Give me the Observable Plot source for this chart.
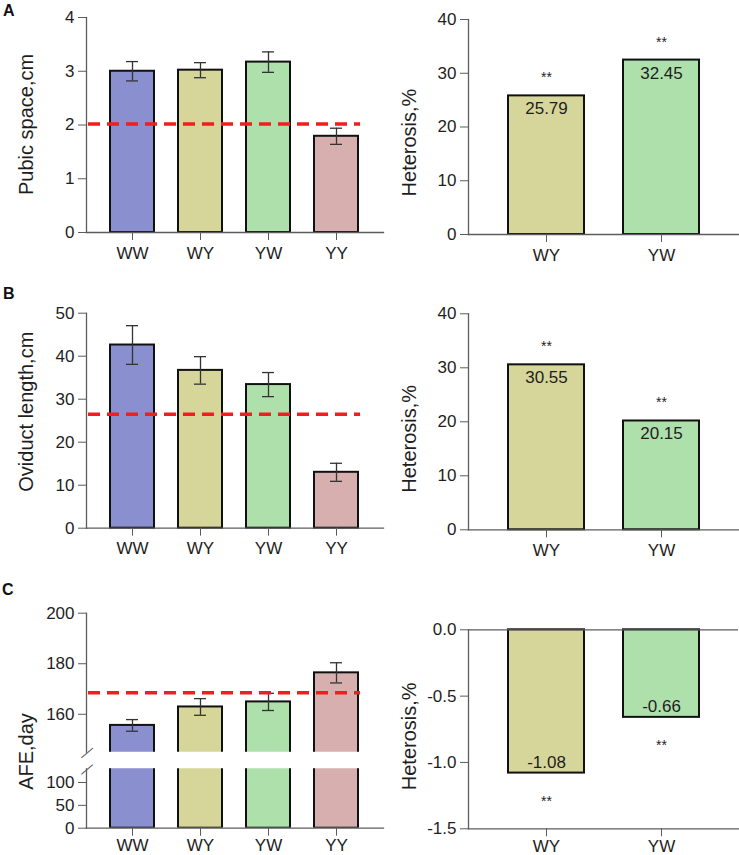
<!DOCTYPE html>
<html><head><meta charset="utf-8">
<script src="https://cdn.jsdelivr.net/npm/d3@7"></script>
<script src="https://cdn.jsdelivr.net/npm/@observablehq/plot@0.6"></script>
<style>
body{margin:0;background:#fff}
#root{position:relative;width:739px;height:855px;overflow:hidden;background:#fff;font-family:'Liberation Sans',Arial,sans-serif}
.tag{position:absolute;font-weight:bold;font-size:16px;line-height:16px;color:#111}
</style></head><body><div id="root"></div>
<script>
// ---- data ----
const categories = ["WW", "WY", "YW", "YY"];
const crosses = ["WY", "YW"];
const fills = ["#8a8fcf", "#d6d69a", "#aee0ac", "#d7afae"];

const pubicMean = [3.00, 3.02, 3.17, 1.79];
const pubicErr = [0.18, 0.14, 0.19, 0.15];
const pubicMid = 2.02;
const pubicHeterosis = [25.79, 32.45];
const pubicTicks = [0, 1, 2, 3, 4];

const oviductMean = [42.6, 36.7, 33.4, 13.0];
const oviductErr = [4.5, 3.2, 2.8, 2.1];
const oviductMid = 26.5;
const oviductHeterosis = [30.55, 20.15];
const oviductTicks = [0, 10, 20, 30, 40, 50];

const afeMean = [155.6, 162.9, 164.9, 176.4];
const afeErr = [2.3, 3.3, 3.4, 4.0];
const afeMid = 168.5;
const afeHeterosis = [-1.08, -0.66];
const afeTicksUpper = [160, 180, 200];
const afeTicksLower = [0, 50, 100];
const afeUpperDomain = [145, 200];
const afeLowerDomain = [0, 130];

const heterosisTicks = [0, 10, 20, 30, 40];
const afeHetTicks = [-1.5, -1.0, -0.5, 0.0];
const significance = "**";

// ---- drawing ----
const AXIS = "#5c5c5c";
const INK = "#1e1e1e";
const RED = "#f01e1e";
const FONT = "'Liberation Sans', Arial, sans-serif";
const root = document.getElementById("root");
function place(svg, left, top) {
  svg.style.position = "absolute";
  svg.style.left = left + "px";
  svg.style.top = top + "px";
  root.appendChild(svg);
}
function tag(t, left, top) {
  const d = document.createElement("div");
  d.className = "tag"; d.textContent = t;
  d.style.left = left + "px"; d.style.top = top + "px";
  root.appendChild(d);
}
const colorScale = {domain: categories, range: fills};
const styleBase = {fontFamily: FONT, fontSize: "17px", color: INK, background: "transparent", overflow: "visible"};
const xGroup = {domain: categories, paddingInner: 0.35, paddingOuter: 0.33, label: null};
const intFmt = d => String(d);

function errMarks(rows) {
  return [
    Plot.ruleX(rows, {x: "c", y1: d => d.m - d.e, y2: d => d.m + d.e, stroke: "#333", strokeWidth: 1.3}),
    Plot.tickY(rows, {x: "c", y: d => d.m + d.e, insetLeft: 16, insetRight: 16, stroke: "#333", strokeWidth: 1.3}),
    Plot.tickY(rows, {x: "c", y: d => d.m - d.e, insetLeft: 16, insetRight: 16, stroke: "#333", strokeWidth: 1.3})
  ];
}
function midLine(v) {
  return Plot.ruleY([v], {insetLeft: 2, insetRight: 23, stroke: RED, strokeWidth: 3.5, strokeDasharray: "12,7"});
}
function yLabel(label, dx, dy) {
  return Plot.text([label], {text: d => d, frameAnchor: "left", textAnchor: "middle", lineAnchor: "middle", rotate: -90, dx, dy, fontSize: 20, fill: INK});
}

function groupPanel(o) {
  const rows = categories.map((c, i) => ({c, m: o.mean[i], e: o.err[i]}));
  const H = o.height, mt = o.mt, mb = o.mb;
  const svg = Plot.plot({
    width: 385, height: H, marginLeft: 86, marginRight: 2, marginTop: mt, marginBottom: mb,
    style: styleBase,
    x: xGroup,
    y: {domain: o.domain, range: [H - mb, mt], label: null},
    color: colorScale,
    marks: [
      Plot.barY(rows, {x: "c", y: "m", fill: "c", stroke: "#111", strokeWidth: 2}),
      Plot.frame({anchor: "left", stroke: AXIS, strokeWidth: 1.3}),
      Plot.frame({anchor: "bottom", stroke: AXIS, strokeWidth: 1.3}),
      Plot.axisX({tickSize: 8, tickPadding: 6, stroke: AXIS, fill: INK, label: null}),
      Plot.axisY({ticks: o.ticks, tickFormat: intFmt, tickSize: 8, tickPadding: 4, stroke: AXIS, fill: INK, label: null}),
      ...errMarks(rows),
      midLine(o.mid),
      yLabel(o.label, -60, o.labelDy)
    ]
  });
  place(svg, 0, o.top);
}

// broken-axis panel: upper segment and lower segment
function brokenPanel() {
  const rows = categories.map((c, i) => ({c, m: afeMean[i], e: afeErr[i]}));
  const breakMark = (y) => Plot.text([y], {y: d => d, text: () => "\u2014", frameAnchor: "left", textAnchor: "middle", lineAnchor: "middle", rotate: -40, fontSize: 15, fill: AXIS});
  // upper: frame 612.7 -> 751.7 (absolute), svg top 560
  const H1 = 192, mt1 = 52.7, mb1 = 0.3;
  const upper = Plot.plot({
    width: 385, height: H1, marginLeft: 86, marginRight: 2, marginTop: mt1, marginBottom: mb1,
    style: styleBase,
    x: {...xGroup, axis: null},
    y: {domain: afeUpperDomain, range: [H1 - mb1, mt1], label: null},
    color: colorScale,
    marks: [
      Plot.barY(rows, {x: "c", y: "m", fill: "c", stroke: "#111", strokeWidth: 2, clip: true}),
      Plot.frame({anchor: "left", stroke: AXIS, strokeWidth: 1.3}),
      Plot.axisY({ticks: afeTicksUpper, tickFormat: intFmt, tickSize: 8, tickPadding: 4, stroke: AXIS, fill: INK, label: null}),
      ...errMarks(rows),
      midLine(afeMid),
      breakMark(afeUpperDomain[0]),
      yLabel("AFE,day", -60, 68.8)
    ]
  });
  place(upper, 0, 560);
  // lower: frame 768.3 -> 827.7 (absolute), svg top 752
  const H2 = 123, mt2 = 16.3, mb2 = 47.3;
  const lower = Plot.plot({
    width: 385, height: H2, marginLeft: 86, marginRight: 2, marginTop: mt2, marginBottom: mb2,
    style: styleBase,
    x: xGroup,
    y: {domain: afeLowerDomain, range: [H2 - mb2, mt2], label: null},
    color: colorScale,
    marks: [
      Plot.barY(rows, {x: "c", y: "m", fill: "c", stroke: "#111", strokeWidth: 2, clip: true}),
      Plot.frame({anchor: "left", stroke: AXIS, strokeWidth: 1.3}),
      Plot.frame({anchor: "bottom", stroke: AXIS, strokeWidth: 1.3}),
      Plot.axisX({tickSize: 8, tickPadding: 3, stroke: AXIS, fill: INK, label: null}),
      Plot.axisY({ticks: afeTicksLower, tickFormat: intFmt, tickSize: 8, tickPadding: 4, stroke: AXIS, fill: INK, label: null}),
      breakMark(afeLowerDomain[1])
    ]
  });
  place(lower, 0, 752);
}

function hetPanel(o) {
  const rows = crosses.map((c, i) => ({c, v: o.values[i]}));
  const neg = o.values[0] < 0;
  const H = o.height, mt = o.mt, mb = o.mb;
  const marks = [
    Plot.barY(rows, {x: "c", y: "v", fill: "c", stroke: "#111", strokeWidth: 2}),
    Plot.frame({anchor: "left", stroke: AXIS, strokeWidth: 1.3}),
    Plot.frame({anchor: "bottom", stroke: AXIS, strokeWidth: 1.3}),
    Plot.axisX({tickSize: 8, tickPadding: o.tickPadding ?? 6, stroke: AXIS, fill: INK, label: null}),
    Plot.axisY({ticks: o.ticks, tickSize: 8, tickPadding: 4, stroke: AXIS, fill: INK, label: null, tickFormat: o.fmt ?? intFmt}),
    Plot.text(rows, {x: "c", y: "v", text: d => d.v.toFixed(2), dy: neg ? -11 : 13, fontSize: 17, fill: INK}),
    Plot.text(rows, {x: "c", y: "v", text: () => significance, dy: neg ? 28 : -18, fontSize: 14, fill: INK}),
    yLabel(o.label, -59, o.labelDy)
  ];
  if (neg) marks.push(Plot.ruleY([0], {stroke: AXIS, strokeWidth: 1.3}));
  const svg = Plot.plot({
    width: 354, height: H, marginLeft: 83, marginRight: 1, marginTop: mt, marginBottom: mb,
    style: styleBase,
    x: {domain: crosses, paddingInner: 0.34, paddingOuter: 0.34, label: null},
    y: {domain: o.domain, range: [H - mb, mt], label: null},
    color: colorScale,
    marks
  });
  place(svg, 385, o.top);
}

groupPanel({mean: pubicMean, err: pubicErr, mid: pubicMid, domain: [0, 4], ticks: pubicTicks,
  label: "Pubic space,cm", labelDy: -0.5, top: 0, height: 270, mt: 17, mb: 38});
hetPanel({values: pubicHeterosis, domain: [0, 40], ticks: heterosisTicks, label: "Heterosis,%",
  labelDy: 15.5, top: 0, height: 270, mt: 19, mb: 36});

groupPanel({mean: oviductMean, err: oviductErr, mid: oviductMid, domain: [0, 50], ticks: oviductTicks,
  label: "Oviduct length,cm", labelDy: -9, top: 270, height: 290, mt: 42.7, mb: 32.3});
hetPanel({values: oviductHeterosis, domain: [0, 40], ticks: heterosisTicks, label: "Heterosis,%",
  labelDy: 17, top: 270, height: 290, mt: 43.3, mb: 30.7});

brokenPanel();
hetPanel({values: afeHeterosis, domain: [-1.5, 0], ticks: afeHetTicks, fmt: d => d.toFixed(1), label: "Heterosis,%",
  labelDy: 7, top: 560, height: 315, mt: 69.3, mb: 46.7, tickPadding: 3});

tag("A", 3, 2.5);
tag("B", 3, 285.5);
tag("C", 2, 581.5);
</script></body></html>
